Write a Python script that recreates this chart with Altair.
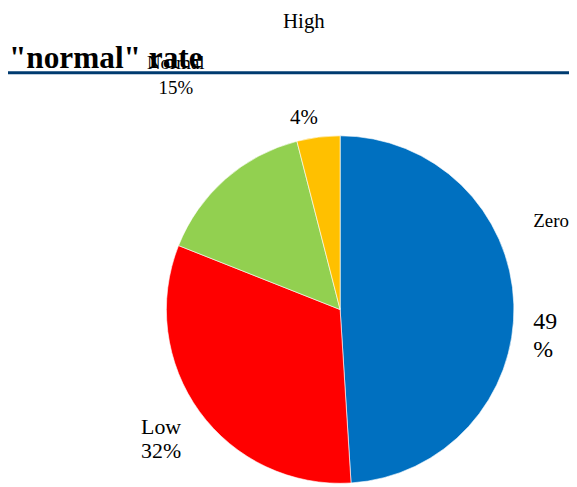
import altair as alt
import pandas as pd

# ---- data ----
categories = ["Zero", "Low", "Normal", "High"]
values = [49, 32, 15, 4]
colors = ["#0070C0", "#FF0000", "#92D050", "#FFC000"]
title_text = '"normal" rate'

df = pd.DataFrame({
    "category": categories,
    "value": values,
    "order": list(range(len(categories))),
    "pct": [f"{v}%" for v in values],
})

W, H = 565, 477
FONT = "'Liberation Serif', 'Times New Roman', Times, serif"

# layout / style of the annotations (not data)
CENTER = (334.5, 302)
RADIUS = 175
name_layout = {
    "High":   dict(x=298, y=18, align="center", size=21),
    "Normal": dict(x=169, y=60, align="center", size=19),
    "Zero":   dict(x=529, y=219, align="left", size=19),
    "Low":    dict(x=134, y=427, align="left", size=22),
}
pct_layout = {
    "High":   dict(x=298, y=115, align="center", size=21, wrap=False),
    "Normal": dict(x=169, y=85, align="center", size=19, wrap=False),
    "Zero":   dict(x=529, y=322, align="left", size=24, wrap=True),
    "Low":    dict(x=134, y=452, align="left", size=22, wrap=False),
}

base = alt.Chart(df)

pie = base.mark_arc(radius=RADIUS, stroke="white", strokeWidth=0.6).encode(
    theta=alt.Theta("value:Q", stack=True),
    order=alt.Order("order:Q"),
    color=alt.Color("category:N", scale=alt.Scale(domain=categories, range=colors), legend=None),
    x=alt.value(CENTER[0]),
    y=alt.value(CENTER[1]),
)

layers = [pie]

# header rule and title
rule = base.mark_rule(color="#003B70", strokeWidth=3).encode(
    x=alt.value(0), x2=alt.value(W), y=alt.value(63.5)
).transform_filter(alt.datum.order == 0)
title = base.mark_text(
    text=title_text, font=FONT, fontSize=31.5, fontWeight="bold", align="left",
    baseline="alphabetic", color="black", x=1, y=59,
).transform_filter(alt.datum.order == 0)
layers += [rule, title]

for cat in categories:
    nl = name_layout[cat]
    layers.append(
        base.transform_filter(alt.datum.category == cat).mark_text(
            font=FONT, fontSize=nl["size"], align=nl["align"], baseline="alphabetic",
            color="black", x=nl["x"], y=nl["y"],
        ).encode(text="category:N")
    )
    pl = pct_layout[cat]
    enc_text = "pct:N"
    ch = base.transform_filter(alt.datum.category == cat)
    if pl["wrap"]:
        ch = ch.transform_calculate(pct2="replace(datum.pct, '%', '\\n%')")
        enc_text = "pct2:N"
    layers.append(
        ch.mark_text(
            font=FONT, fontSize=pl["size"], align=pl["align"], baseline="alphabetic",
            color="black", x=pl["x"], y=pl["y"], lineBreak="\n", lineHeight=28,
        ).encode(text=enc_text)
    )

chart = alt.layer(*layers).properties(
    width=W, height=H, padding=0, autosize="none"
).configure_view(stroke=None)

chart.save("out.html", embed_options={"renderer": "svg", "actions": False})
